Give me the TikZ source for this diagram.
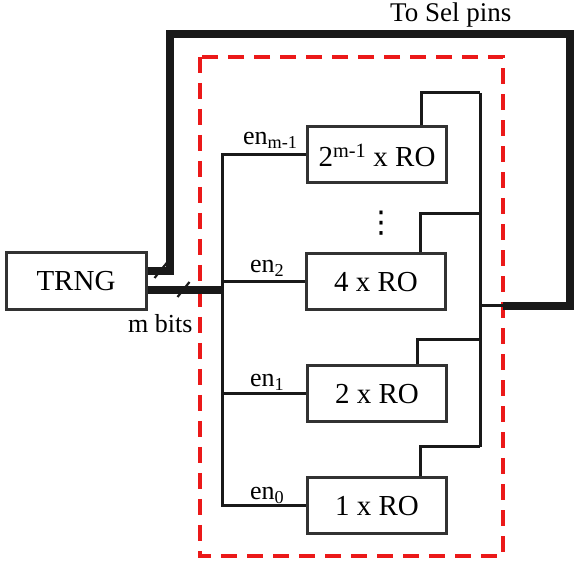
\documentclass[tikz,border=0pt]{standalone}
\usepackage{fontspec}
\setmainfont{Liberation Serif}
\newfontfamily\dotsfont{DejaVu Sans}
\usetikzlibrary{positioning, calc}
\definecolor{boxgray}{RGB}{50, 50, 50}
\definecolor{wireblack}{RGB}{25, 25, 25}
\definecolor{enclred}{RGB}{235, 25, 25}

\begin{document}
\begin{tikzpicture}[
    x=1pt, y=-1pt,
    blk/.style={draw=boxgray, line width=3pt,
                minimum width=139pt, minimum height=56pt,
                inner sep=0pt,
                font=\fontsize{29}{32}\selectfont},
    wire/.style={draw=wireblack, line width=3pt,
                 line join=miter},
    bus/.style={draw=wireblack, line width=8pt,
                line join=miter},
    tick/.style={draw=wireblack, line width=2.2pt},
    enlab/.style={anchor=base west, inner sep=0pt,
                  font=\fontsize{26}{30}\selectfont},
    encl/.style={draw=enclred, line width=3.5pt,
                 dash pattern=on 16pt off 10pt},
]
\useasboundingbox (0,0) rectangle (574,564);

% -- Blocks ---------------------------------
\node[blk, minimum width=140pt, minimum height=57pt]
    (trng) at (76,281)  {TRNG};
\node[blk] (ro3) at (377,155) {2\textsuperscript{m-1} x RO};
\node[blk] (ro2) at (376,282) {4 x RO};
\node[blk] (ro1) at (377,394) {2 x RO};
\node[blk] (ro0) at (377,506) {1 x RO};

\node[inner sep=0pt, font=\dotsfont\fontsize{30}{32}\selectfont]
    (dots) at (381,223) {⋮};

% -- Enclosure ------------------------------
\draw[encl] (200,57) rectangle (503,556);

% -- Helper coordinates ---------------------
\coordinate (lb)     at (222,0);
\coordinate (rb)     at (480,0);
\coordinate (mout)   at ($(trng.east)+(0,9)$);
\coordinate (selout) at ($(trng.east)+(0,-10)$);
\coordinate (selup)  at (170,34);
\coordinate (seldn)  at (570,306);
\coordinate (selin)  at (503,306);
\coordinate (rbtap)  at (480,306);
\coordinate (rbtop)  at (480,93);
\coordinate (rbbot)  at (480,447);

% -- Enable bus -----------------------------
\draw[bus] (mout) -- (mout -| lb);
\draw[wire] (ro3.west) -| (ro0.west -| lb) -- (ro0.west);
\draw[wire] (ro2.west -| lb) -- (ro2.west);
\draw[wire] (ro1.west -| lb) -- (ro1.west);

% -- Outputs --------------------------------
\draw[wire] ($(ro3.north)+(44,0)$) |- (rbtop);
\draw[wire] ($(ro2.north)+(44,0)$) |- (480,214);
\draw[wire] ($(ro1.north)+(40,0)$) |- (480,340);
\draw[wire] ($(ro0.north)+(43,0)$) |- (rbbot);
\draw[wire] (rbtop) -- (rbbot);
\draw[wire] (rbtap) -- (selin);

% -- Sel feedback ---------------------------
\draw[bus] (selout) -| (selup) -| (seldn) -- (selin);

% -- Bus width ticks ------------------------
\draw[tick] ($(mout)+(30,7)$) -- ($(mout)+(42,-8)$);
\draw[tick] ($(selout)+(7,7)$) -- ($(selout)+(20,-9)$);

% -- Labels ---------------------------------
\node[enlab] (en3) at (243,145) {en\textsubscript{m-1}};
\node[enlab] (en2) at (250,273) {en\textsubscript{2}};
\node[enlab] (en1) at (250,387) {en\textsubscript{1}};
\node[enlab] (en0) at (250,500) {en\textsubscript{0}};
\node[enlab] (mb)  at (128,333) {m bits};
\node[enlab, font=\fontsize{27}{30}\selectfont]
    (sel) at (390,22) {To Sel pins};

\end{tikzpicture}
\end{document}
